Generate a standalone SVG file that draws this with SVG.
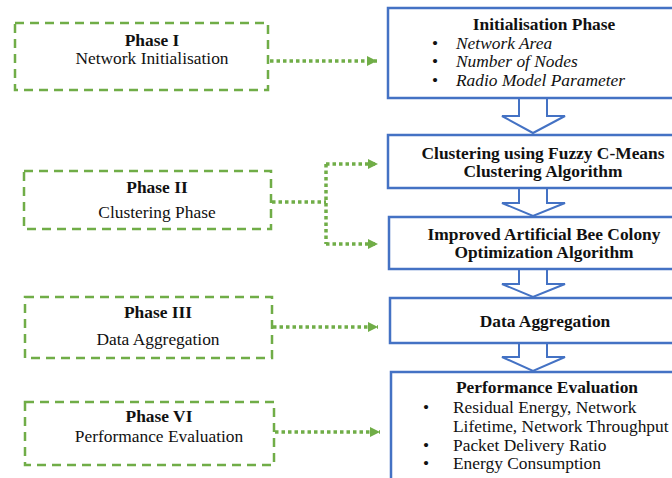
<svg xmlns="http://www.w3.org/2000/svg" width="672" height="478" viewBox="0 0 672 478">
<defs>
<style>
.phase{fill:#fff;stroke:#70AD47;stroke-width:2.5;stroke-dasharray:9 6}
.box{fill:#fff;stroke:#4472C4;stroke-width:2.5}
.barrow{fill:#fff;stroke:#4472C4;stroke-width:2;stroke-linejoin:miter}
.conn{fill:none;stroke:#70AD47;stroke-width:3.5;stroke-dasharray:3.5 3}
.t{font-family:"Liberation Serif","Times New Roman",serif;font-size:17.4px;fill:#111}
.b{font-weight:bold}
.i{font-style:italic}
.c{text-anchor:middle}
</style>
<marker id="ah" viewBox="0 0 10 10" refX="10" refY="5" markerWidth="10" markerHeight="10" markerUnits="userSpaceOnUse" orient="auto">
<path d="M0,0 L10,5 L0,10 Z" fill="#70AD47"/>
</marker>
</defs>
<rect width="672" height="478" fill="#fff"/>

<g id="connectors">
<path class="conn" d="M270,61 H377" marker-end="url(#ah)"/>
<path class="conn" d="M272,202 H326"/>
<path class="conn" d="M326,164 V244"/>
<path class="conn" d="M326,164 H378" marker-end="url(#ah)"/>
<path class="conn" d="M326,244 H378" marker-end="url(#ah)"/>
<path class="conn" d="M273,327 H378" marker-end="url(#ah)"/>
<path class="conn" d="M275,432 H380" marker-end="url(#ah)"/>
</g>

<g id="phase1">
<rect class="phase" x="15" y="23" width="253" height="67"/>
<text class="t b c" x="152" y="46">Phase I</text>
<text class="t c" x="152" y="64">Network Initialisation</text>
</g>
<g id="phase2">
<rect class="phase" x="24" y="171" width="247" height="58"/>
<text class="t b c" x="157" y="193">Phase II</text>
<text class="t c" x="157" y="218">Clustering Phase</text>
</g>
<g id="phase3">
<rect class="phase" x="25" y="297" width="247" height="61"/>
<text class="t b c" x="158" y="318">Phase III</text>
<text class="t c" x="158" y="345">Data Aggregation</text>
</g>
<g id="phase6">
<rect class="phase" x="25" y="402" width="249" height="63"/>
<text class="t b c" x="159" y="422">Phase VI</text>
<text class="t c" x="159" y="442">Performance Evaluation</text>
</g>

<g id="arrows">
<path class="barrow" d="M519,98 V116 H502 L533,133 L565,116 H547 V98"/>
<path class="barrow" d="M519,188 V203 H502 L533,216 L565,203 H547 V188"/>
<path class="barrow" d="M519,269 V284 H502 L533,297 L565,284 H547 V269"/>
<path class="barrow" d="M519,343 V357 H502 L533,371 L565,357 H547 V343"/>
</g>

<g id="init">
<rect class="box" x="388" y="8" width="300" height="90"/>
<text class="t b c" x="544" y="30">Initialisation Phase</text>
<text class="t" x="432" y="49">•</text>
<text class="t i" x="456" y="49">Network Area</text>
<text class="t" x="432" y="67">•</text>
<text class="t i" x="456" y="67">Number of Nodes</text>
<text class="t" x="432" y="86">•</text>
<text class="t i" x="456" y="86">Radio Model Parameter</text>
</g>
<g id="fcm">
<rect class="box" x="388" y="135" width="300" height="53"/>
<text class="t b c" x="543" y="159">Clustering using Fuzzy C-Means</text>
<text class="t b c" x="543" y="177">Clustering Algorithm</text>
</g>
<g id="iabc">
<rect class="box" x="389" y="217" width="300" height="52"/>
<text class="t b c" x="544" y="240">Improved Artificial Bee Colony</text>
<text class="t b c" x="544" y="258">Optimization Algorithm</text>
</g>
<g id="agg">
<rect class="box" x="390" y="298" width="300" height="45"/>
<text class="t b c" x="545" y="327">Data Aggregation</text>
</g>
<g id="perf">
<rect class="box" x="391" y="372" width="300" height="120"/>
<text class="t b c" x="547" y="393">Performance Evaluation</text>
<text class="t" x="423" y="413">•</text>
<text class="t" x="453" y="413">Residual Energy, Network</text>
<text class="t" x="453" y="432">Lifetime, Network Throughput</text>
<text class="t" x="423" y="451">•</text>
<text class="t" x="453" y="451">Packet Delivery Ratio</text>
<text class="t" x="423" y="469">•</text>
<text class="t" x="453" y="469">Energy Consumption</text>
</g>
</svg>
